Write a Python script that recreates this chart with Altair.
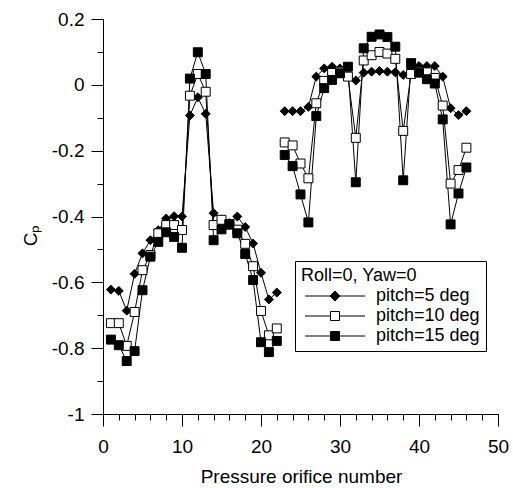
import altair as alt
import pandas as pd

FONT = "Liberation Sans"

series_names = ["pitch=5 deg", "pitch=10 deg", "pitch=15 deg"]

x_left = list(range(1, 23))
x_right = list(range(23, 47))

p5_left = [-0.622, -0.626, -0.686, -0.574, -0.512, -0.472, -0.442, -0.406, -0.399, -0.400,
           -0.093, -0.038, -0.088, -0.390, -0.410, -0.420, -0.400, -0.432, -0.482, -0.571,
           -0.652, -0.631]
p10_left = [-0.724, -0.724, -0.793, -0.690, -0.563, -0.517, -0.451, -0.426, -0.426, -0.441,
            -0.033, 0.033, -0.021, -0.426, -0.410, -0.425, -0.440, -0.483, -0.551, -0.687,
            -0.761, -0.740]
p15_left = [-0.774, -0.791, -0.839, -0.809, -0.624, -0.522, -0.477, -0.448, -0.462, -0.495,
            0.019, 0.099, 0.033, -0.472, -0.439, -0.423, -0.451, -0.514, -0.593, -0.782,
            -0.812, -0.778]

p5_right = [-0.080, -0.080, -0.080, -0.067, 0.025, 0.050, 0.055, 0.050, 0.027, 0.013,
            0.037, 0.040, 0.042, 0.040, 0.038, 0.030, 0.050, 0.057, 0.057, 0.057,
            0.025, -0.071, -0.092, -0.080]
p10_right = [-0.175, -0.184, -0.239, -0.284, -0.056, 0.012, 0.036, 0.040, 0.025, -0.161,
             0.074, 0.090, 0.100, 0.095, 0.079, -0.140, 0.033, 0.040, 0.038, 0.021,
             -0.063, -0.300, -0.259, -0.191]
p15_right = [-0.213, -0.247, -0.333, -0.418, -0.095, -0.010, 0.015, 0.035, 0.055, -0.296,
             0.111, 0.146, 0.153, 0.145, 0.116, -0.290, 0.066, 0.037, 0.017, 0.004,
             -0.105, -0.424, -0.330, -0.251]

x_major = [0, 10, 20, 30, 40, 50]
x_minor = list(range(0, 51, 2))
y_major = [0.2, 0, -0.2, -0.4, -0.6, -0.8, -1]
y_minor = [0.2, 0.1, 0, -0.1, -0.2, -0.3, -0.4, -0.5, -0.6, -0.7, -0.8, -0.9, -1]

rows = []
for name, left, right in zip(series_names,
                             [p5_left, p10_left, p15_left],
                             [p5_right, p10_right, p15_right]):
    for xv, yv in zip(x_left, left):
        rows.append({"x": xv, "cp": yv, "series": name, "grp": name + "|L"})
    for xv, yv in zip(x_right, right):
        rows.append({"x": xv, "cp": yv, "series": name, "grp": name + "|R"})
df = pd.DataFrame(rows)

xs = alt.Scale(domain=[0, 50], nice=False, zero=False)
ys = alt.Scale(domain=[-1, 0.2], nice=False, zero=False)

common_axis = dict(grid=False, domainColor="black", tickColor="black", tickWidth=1,
                   domainWidth=1, labelFont=FONT, titleFont=FONT, labelColor="black",
                   titleColor="black", labelFontSize=19, titleFontSize=19,
                   titleFontWeight="normal", labelFlush=False, labelOverlap=False)

base = alt.Chart(df)

lines = base.mark_line(color="black", strokeWidth=1).encode(
    x=alt.X("x:Q", scale=xs,
            axis=alt.Axis(orient="bottom", values=x_minor, tickSize=6, labels=False, title=None,
                          domain=False, grid=False, tickColor="black")),
    y=alt.Y("cp:Q", scale=ys,
            axis=alt.Axis(orient="left", values=y_minor, tickSize=6, labels=False, title=None,
                          domain=False, grid=False, tickColor="black")),
    detail="grp:N",
    order="x:Q",
)

points = base.mark_point(filled=True, size=80, stroke="black", strokeWidth=1, opacity=1).encode(
    x=alt.X("x:Q", scale=xs,
            axis=alt.Axis(orient="bottom", values=x_major, tickSize=12, labelPadding=11,
                          title="Pressure orifice number", titleX=198, titleY=68,
                          titleAlign="center", titleBaseline="alphabetic",
                          **common_axis)),
    y=alt.Y("cp:Q", scale=ys,
            axis=alt.Axis(orient="left", values=y_major, tickSize=12, labelPadding=7,
                          labelExpr="datum.value + ''",
                          title="Cₚ", titleAngle=270, titleX=-73, titleY=216,
                          titleAlign="center", titleBaseline="middle",
                          **common_axis)),
    shape=alt.Shape("series:N",
                    scale=alt.Scale(domain=series_names, range=["diamond", "square", "square"]),
                    legend=None),
    fill=alt.Fill("series:N",
                  scale=alt.Scale(domain=series_names, range=["black", "white", "black"]),
                  legend=None),
)

leg_paths = [
    "M-6,0H-0.9M0.9,0H6M0,-1L1,0L0,1L-1,0Z",
    "M-6,0H-0.9M0.9,0H6M-0.9,-0.9H0.9V0.9H-0.9Z",
    "M-6,0H-0.9M0.9,0H6M-0.9,-0.9H0.9V0.9H-0.9Z",
]

def make_legend():
    return alt.Legend(
        title="Roll=0, Yaw=0", orient="none", legendX=192, legendY=242,
        strokeColor="black", fillColor="white", padding=6,
        titleFont=FONT, titleFontSize=18, titleFontWeight="normal", titleColor="black",
        labelFont=FONT, labelFontSize=18, labelColor="black", labelAlign="left",
        symbolSize=100, symbolOffset=25, labelOffset=32,
        symbolStrokeWidth=1, symbolOpacity=1,
        rowPadding=2, titlePadding=2,
    )

legend_layer = base.mark_point(filled=True, size=10, opacity=0).encode(
    x=alt.X("x:Q", scale=xs, axis=None),
    y=alt.Y("cp:Q", scale=ys, axis=None),
    shape=alt.Shape("series:N", scale=alt.Scale(domain=series_names, range=leg_paths),
                    legend=make_legend()),
    fill=alt.Fill("series:N", scale=alt.Scale(domain=series_names, range=["black", "white", "black"]),
                  legend=make_legend()),
    stroke=alt.Stroke("series:N", scale=alt.Scale(domain=series_names, range=["black", "black", "black"]),
                      legend=make_legend()),
)

chart = alt.layer(lines, points, legend_layer).resolve_scale(
    shape="independent", fill="independent", stroke="independent"
).resolve_axis(x="independent", y="independent").properties(
    width=395, height=395,
    padding={"left": 103, "top": 19, "right": 15, "bottom": 74},
    autosize=alt.AutoSizeParams(type="none"),
    background="white",
).configure_view(stroke=None)

chart.save("out.html", embed_options={"renderer": "svg", "actions": False})
